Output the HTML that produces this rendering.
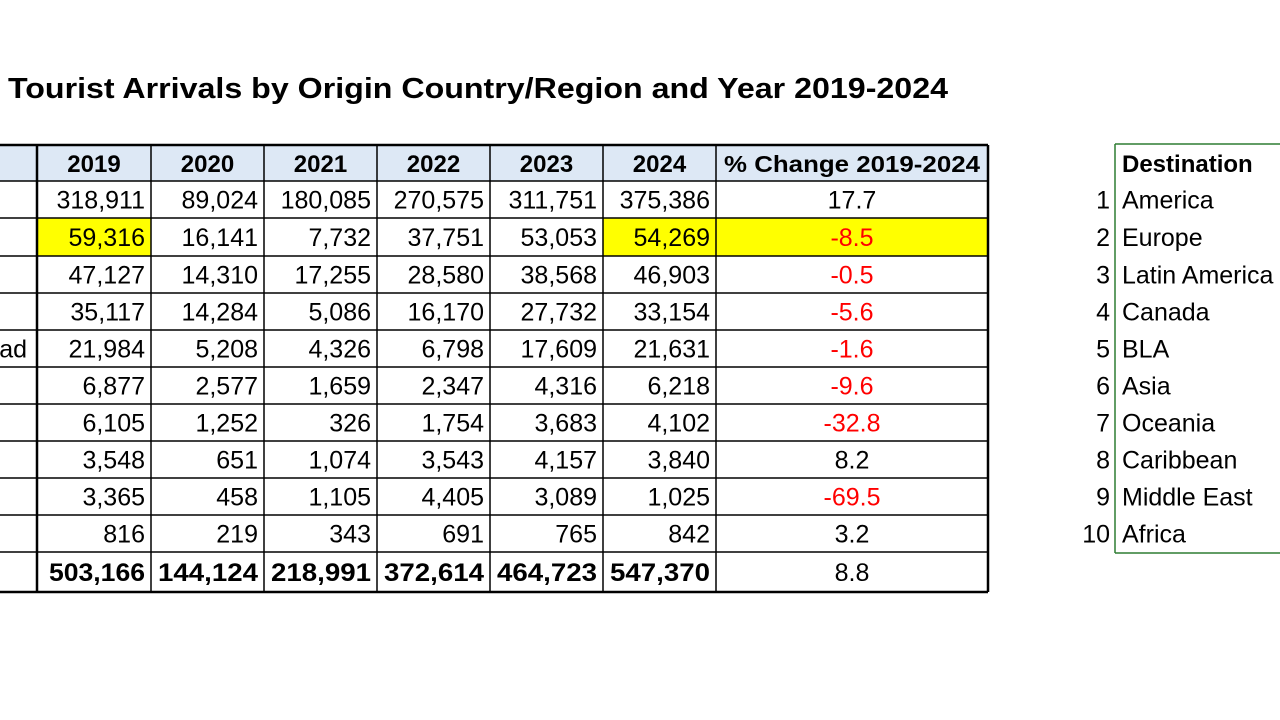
<!DOCTYPE html>
<html><head><meta charset="utf-8"><style>
html,body{margin:0;padding:0;background:#fff;width:1280px;height:720px;overflow:hidden}
svg{display:block;font-family:"Liberation Sans",Arial,sans-serif}
</style></head><body>
<svg id="s" width="1280" height="720" xmlns="http://www.w3.org/2000/svg">
<text x="8" y="98" font-size="29" font-weight="bold" textLength="940" lengthAdjust="spacingAndGlyphs">Tourist Arrivals by Origin Country/Region and Year 2019-2024</text>
<g id="g"></g>
</svg>
<script>
const years=["2019","2020","2021","2022","2023","2024"];
const rowLabels=["","","","","ad","","","","",""];
const v2019=[318911,59316,47127,35117,21984,6877,6105,3548,3365,816];
const v2020=[89024,16141,14310,14284,5208,2577,1252,651,458,219];
const v2021=[180085,7732,17255,5086,4326,1659,326,1074,1105,343];
const v2022=[270575,37751,28580,16170,6798,2347,1754,3543,4405,691];
const v2023=[311751,53053,38568,27732,17609,4316,3683,4157,3089,765];
const v2024=[375386,54269,46903,33154,21631,6218,4102,3840,1025,842];
const pct=[17.7,-8.5,-0.5,-5.6,-1.6,-9.6,-32.8,8.2,-69.5,3.2];
const totals=[503166,144124,218991,372614,464723,547370];
const totalPct=8.8;
const destinations=["America","Europe","Latin America","Canada","BLA","Asia","Oceania","Caribbean","Middle East","Africa"];

const NS="http://www.w3.org/2000/svg",g=document.getElementById('g');
function el(t,a,txt){const e=document.createElementNS(NS,t);for(const k in a)e.setAttribute(k,a[k]);if(txt!==undefined)e.textContent=txt;g.appendChild(e);return e;}
const colX=[-20,37,151,264,377,490,603,716,988];
const rowY=[145,181,218,256,293,330,367,404,441,478,515,552,592];
const fmt=n=>n.toLocaleString('en-US');
const cols=[v2019,v2020,v2021,v2022,v2023,v2024];
// header fill
let r=el('rect',{x:-20,y:145,width:1008,height:36,fill:'#dde8f5'});


// highlights
[[0,1],[5,1]].forEach(([c,row])=>{const h=el('rect',{x:colX[c+1],y:rowY[row+1],width:colX[c+2]-colX[c+1],height:rowY[row+2]-rowY[row+1],fill:'#ffff00'});

});
let hp=el('rect',{x:716,y:rowY[2],width:272,height:rowY[3]-rowY[2],fill:'#ffff00'});


// headers
years.forEach((y,i)=>{const t=el('text',{x:(colX[i+1]+colX[i+2])/2,y:172,'font-size':24,'font-weight':'bold','text-anchor':'middle'},y);

});
let ph=el('text',{x:852,y:172,'font-size':23,'font-weight':'bold','text-anchor':'middle',textLength:256,lengthAdjust:'spacingAndGlyphs'},'% Change 2019-2024');


// data rows
for(let i=0;i<10;i++){
 const base=(rowY[i+1]+rowY[i+2])/2+9;
 if(rowLabels[i]){const l=el('text',{x:27,y:base,'font-size':25,'text-anchor':'end'},rowLabels[i]);
 
 }
 cols.forEach((c,j)=>{const t=el('text',{x:colX[j+2]-6,y:base,'font-size':25,'text-anchor':'end'},fmt(c[i]));
 
 });
 const p=el('text',{x:852,y:base,'font-size':25,'text-anchor':'middle',fill:pct[i]<0?'#ff0000':'#000'},pct[i].toFixed(1));
 
 
 const n=el('text',{x:1110,y:base,'font-size':25,'text-anchor':'end'},String(i+1));
 
 
 const d=el('text',{x:1122,y:base,'font-size':25},destinations[i]);
 
 
}
const tb=(552+592)/2+9;
totals.forEach((v,j)=>{const t=el('text',{x:colX[j+2]-6,y:tb,'font-size':25,'font-weight':'bold','text-anchor':'end',textLength:j==0?96:100,lengthAdjust:'spacingAndGlyphs'},fmt(v));

});
let tp=el('text',{x:852,y:tb,'font-size':25,'text-anchor':'middle'},totalPct.toFixed(1));


// grid
rowY.forEach((y,i)=>{const l=el('line',{x1:-20,x2:988,y1:y,y2:y,stroke:'#000','stroke-width':(i==0||i==12)?2.5:1.5});

});
colX.slice(1).forEach((x,i)=>{const l=el('line',{x1:x,x2:x,y1:145,y2:592,stroke:'#000','stroke-width':(i==0||i==7)?2.5:1.5});

});
// right table
let dh=el('text',{x:1122,y:172,'font-size':24,'font-weight':'bold'},'Destination');


let b1=el('line',{x1:1115,x2:1280,y1:144,y2:144,stroke:'#2e7d32','stroke-width':1.5});


let b2=el('line',{x1:1115,x2:1115,y1:144,y2:553,stroke:'#2e7d32','stroke-width':1.5});


let b3=el('line',{x1:1115,x2:1280,y1:553,y2:553,stroke:'#2e7d32','stroke-width':1.5});


</script>
</body></html>
